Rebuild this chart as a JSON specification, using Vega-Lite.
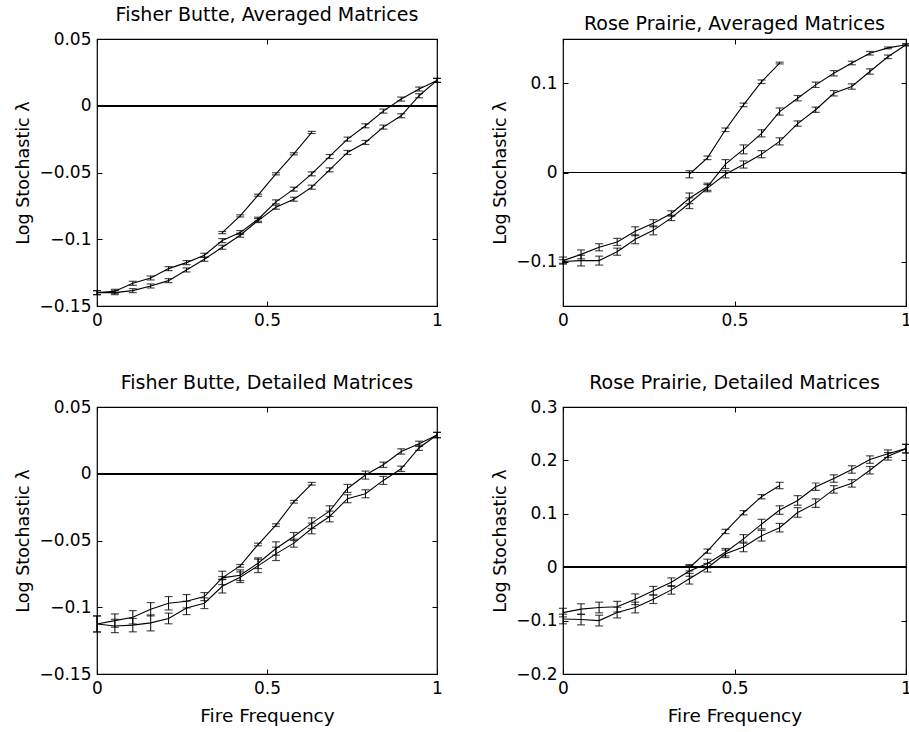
{
  "$schema": "https://vega.github.io/schema/vega-lite/v6.json",
  "padding": {"left": 14, "top": 5, "right": 0, "bottom": 0},
  "background": "white",
  "datasets": {
    "fbA": [
      {"s": "a", "x": 0, "y": -0.14, "e": 0.0015},
      {"s": "a", "x": 0.0526, "y": -0.139, "e": 0.0015},
      {"s": "a", "x": 0.1053, "y": -0.133, "e": 0.0015},
      {"s": "a", "x": 0.1579, "y": -0.129, "e": 0.0015},
      {"s": "a", "x": 0.2105, "y": -0.122, "e": 0.0015},
      {"s": "a", "x": 0.2632, "y": -0.1175, "e": 0.0015},
      {"s": "a", "x": 0.3158, "y": -0.112, "e": 0.0015},
      {"s": "a", "x": 0.3684, "y": -0.101, "e": 0.0015},
      {"s": "a", "x": 0.4211, "y": -0.095, "e": 0.0015},
      {"s": "a", "x": 0.4737, "y": -0.085, "e": 0.0015},
      {"s": "a", "x": 0.5263, "y": -0.072, "e": 0.0015},
      {"s": "a", "x": 0.5789, "y": -0.0625, "e": 0.0015},
      {"s": "a", "x": 0.6316, "y": -0.051, "e": 0.0015},
      {"s": "a", "x": 0.6842, "y": -0.038, "e": 0.0015},
      {"s": "a", "x": 0.7368, "y": -0.025, "e": 0.0015},
      {"s": "a", "x": 0.7895, "y": -0.015, "e": 0.0015},
      {"s": "a", "x": 0.8421, "y": -0.004, "e": 0.0015},
      {"s": "a", "x": 0.8947, "y": 0.005, "e": 0.0015},
      {"s": "a", "x": 0.9474, "y": 0.0125, "e": 0.0015},
      {"s": "a", "x": 1, "y": 0.019, "e": 0.0015},
      {"s": "b", "x": 0, "y": -0.14, "e": 0.0015},
      {"s": "b", "x": 0.0526, "y": -0.14, "e": 0.0015},
      {"s": "b", "x": 0.1053, "y": -0.1385, "e": 0.0015},
      {"s": "b", "x": 0.1579, "y": -0.135, "e": 0.0015},
      {"s": "b", "x": 0.2105, "y": -0.131, "e": 0.0015},
      {"s": "b", "x": 0.2632, "y": -0.123, "e": 0.0015},
      {"s": "b", "x": 0.3158, "y": -0.115, "e": 0.0015},
      {"s": "b", "x": 0.3684, "y": -0.106, "e": 0.0015},
      {"s": "b", "x": 0.4211, "y": -0.097, "e": 0.0015},
      {"s": "b", "x": 0.4737, "y": -0.086, "e": 0.0015},
      {"s": "b", "x": 0.5263, "y": -0.076, "e": 0.0015},
      {"s": "b", "x": 0.5789, "y": -0.07, "e": 0.0015},
      {"s": "b", "x": 0.6316, "y": -0.061, "e": 0.0015},
      {"s": "b", "x": 0.6842, "y": -0.048, "e": 0.0015},
      {"s": "b", "x": 0.7368, "y": -0.035, "e": 0.0015},
      {"s": "b", "x": 0.7895, "y": -0.0275, "e": 0.0015},
      {"s": "b", "x": 0.8421, "y": -0.016, "e": 0.0015},
      {"s": "b", "x": 0.8947, "y": -0.0075, "e": 0.0015},
      {"s": "b", "x": 0.9474, "y": 0.0075, "e": 0.0015},
      {"s": "b", "x": 1, "y": 0.019, "e": 0.0015},
      {"s": "c", "x": 0.3684, "y": -0.095, "e": 0.0008},
      {"s": "c", "x": 0.4211, "y": -0.0825, "e": 0.0008},
      {"s": "c", "x": 0.4737, "y": -0.067, "e": 0.0008},
      {"s": "c", "x": 0.5263, "y": -0.051, "e": 0.0008},
      {"s": "c", "x": 0.5789, "y": -0.036, "e": 0.0008},
      {"s": "c", "x": 0.6316, "y": -0.02, "e": 0.0008}
    ],
    "rpA": [
      {"s": "a", "x": 0, "y": -0.099, "e": 0.004},
      {"s": "a", "x": 0.0526, "y": -0.092, "e": 0.005},
      {"s": "a", "x": 0.1053, "y": -0.084, "e": 0.004},
      {"s": "a", "x": 0.1579, "y": -0.078, "e": 0.004},
      {"s": "a", "x": 0.2105, "y": -0.066, "e": 0.005},
      {"s": "a", "x": 0.2632, "y": -0.057, "e": 0.004},
      {"s": "a", "x": 0.3158, "y": -0.046, "e": 0.003},
      {"s": "a", "x": 0.3684, "y": -0.029, "e": 0.006},
      {"s": "a", "x": 0.4211, "y": -0.016, "e": 0.004},
      {"s": "a", "x": 0.4737, "y": 0.0095, "e": 0.005},
      {"s": "a", "x": 0.5263, "y": 0.026, "e": 0.005},
      {"s": "a", "x": 0.5789, "y": 0.044, "e": 0.004},
      {"s": "a", "x": 0.6316, "y": 0.0685, "e": 0.004},
      {"s": "a", "x": 0.6842, "y": 0.0835, "e": 0.003},
      {"s": "a", "x": 0.7368, "y": 0.0985, "e": 0.003},
      {"s": "a", "x": 0.7895, "y": 0.1115, "e": 0.003},
      {"s": "a", "x": 0.8421, "y": 0.123, "e": 0.002},
      {"s": "a", "x": 0.8947, "y": 0.134, "e": 0.002},
      {"s": "a", "x": 0.9474, "y": 0.14, "e": 0.001},
      {"s": "a", "x": 1, "y": 0.1435, "e": 0.001},
      {"s": "b", "x": 0, "y": -0.1, "e": 0.002},
      {"s": "b", "x": 0.0526, "y": -0.099, "e": 0.006},
      {"s": "b", "x": 0.1053, "y": -0.099, "e": 0.005},
      {"s": "b", "x": 0.1579, "y": -0.089, "e": 0.004},
      {"s": "b", "x": 0.2105, "y": -0.075, "e": 0.005},
      {"s": "b", "x": 0.2632, "y": -0.065, "e": 0.005},
      {"s": "b", "x": 0.3158, "y": -0.051, "e": 0.003},
      {"s": "b", "x": 0.3684, "y": -0.0345, "e": 0.006},
      {"s": "b", "x": 0.4211, "y": -0.0176, "e": 0.004},
      {"s": "b", "x": 0.4737, "y": -0.002, "e": 0.004},
      {"s": "b", "x": 0.5263, "y": 0.009, "e": 0.004},
      {"s": "b", "x": 0.5789, "y": 0.0206, "e": 0.004},
      {"s": "b", "x": 0.6316, "y": 0.035, "e": 0.004},
      {"s": "b", "x": 0.6842, "y": 0.055, "e": 0.003},
      {"s": "b", "x": 0.7368, "y": 0.0705, "e": 0.003},
      {"s": "b", "x": 0.7895, "y": 0.089, "e": 0.003},
      {"s": "b", "x": 0.8421, "y": 0.0966, "e": 0.003},
      {"s": "b", "x": 0.8947, "y": 0.1135, "e": 0.003},
      {"s": "b", "x": 0.9474, "y": 0.13, "e": 0.002},
      {"s": "b", "x": 1, "y": 0.1435, "e": 0.001},
      {"s": "c", "x": 0.3684, "y": -0.002, "e": 0.004},
      {"s": "c", "x": 0.4211, "y": 0.0165, "e": 0.002},
      {"s": "c", "x": 0.4737, "y": 0.048, "e": 0.002},
      {"s": "c", "x": 0.5263, "y": 0.076, "e": 0.002},
      {"s": "c", "x": 0.5789, "y": 0.102, "e": 0.002},
      {"s": "c", "x": 0.6316, "y": 0.123, "e": 0.001}
    ],
    "fbD": [
      {"s": "a", "x": 0, "y": -0.1125, "e": 0.006},
      {"s": "a", "x": 0.0526, "y": -0.11, "e": 0.005},
      {"s": "a", "x": 0.1053, "y": -0.1075, "e": 0.005},
      {"s": "a", "x": 0.1579, "y": -0.1015, "e": 0.005},
      {"s": "a", "x": 0.2105, "y": -0.097, "e": 0.005},
      {"s": "a", "x": 0.2632, "y": -0.0955, "e": 0.005},
      {"s": "a", "x": 0.3158, "y": -0.092, "e": 0.003},
      {"s": "a", "x": 0.3684, "y": -0.078, "e": 0.005},
      {"s": "a", "x": 0.4211, "y": -0.076, "e": 0.004},
      {"s": "a", "x": 0.4737, "y": -0.067, "e": 0.004},
      {"s": "a", "x": 0.5263, "y": -0.056, "e": 0.005},
      {"s": "a", "x": 0.5789, "y": -0.047, "e": 0.003},
      {"s": "a", "x": 0.6316, "y": -0.037, "e": 0.004},
      {"s": "a", "x": 0.6842, "y": -0.028, "e": 0.004},
      {"s": "a", "x": 0.7368, "y": -0.011, "e": 0.003},
      {"s": "a", "x": 0.7895, "y": -0.001, "e": 0.003},
      {"s": "a", "x": 0.8421, "y": 0.0067, "e": 0.002},
      {"s": "a", "x": 0.8947, "y": 0.0167, "e": 0.002},
      {"s": "a", "x": 0.9474, "y": 0.0224, "e": 0.002},
      {"s": "a", "x": 1, "y": 0.029, "e": 0.002},
      {"s": "b", "x": 0, "y": -0.1125, "e": 0.006},
      {"s": "b", "x": 0.0526, "y": -0.114, "e": 0.005},
      {"s": "b", "x": 0.1053, "y": -0.1134, "e": 0.005},
      {"s": "b", "x": 0.1579, "y": -0.1117, "e": 0.006},
      {"s": "b", "x": 0.2105, "y": -0.1084, "e": 0.004},
      {"s": "b", "x": 0.2632, "y": -0.1005, "e": 0.005},
      {"s": "b", "x": 0.3158, "y": -0.097, "e": 0.004},
      {"s": "b", "x": 0.3684, "y": -0.0843, "e": 0.005},
      {"s": "b", "x": 0.4211, "y": -0.0775, "e": 0.004},
      {"s": "b", "x": 0.4737, "y": -0.069, "e": 0.005},
      {"s": "b", "x": 0.5263, "y": -0.06, "e": 0.005},
      {"s": "b", "x": 0.5789, "y": -0.052, "e": 0.003},
      {"s": "b", "x": 0.6316, "y": -0.041, "e": 0.004},
      {"s": "b", "x": 0.6842, "y": -0.032, "e": 0.004},
      {"s": "b", "x": 0.7368, "y": -0.0187, "e": 0.003},
      {"s": "b", "x": 0.7895, "y": -0.015, "e": 0.003},
      {"s": "b", "x": 0.8421, "y": -0.005, "e": 0.003},
      {"s": "b", "x": 0.8947, "y": 0.0037, "e": 0.002},
      {"s": "b", "x": 0.9474, "y": 0.0195, "e": 0.002},
      {"s": "b", "x": 1, "y": 0.029, "e": 0.002},
      {"s": "c", "x": 0.3684, "y": -0.078, "e": 0.001},
      {"s": "c", "x": 0.4211, "y": -0.069, "e": 0.001},
      {"s": "c", "x": 0.4737, "y": -0.053, "e": 0.001},
      {"s": "c", "x": 0.5263, "y": -0.0385, "e": 0.001},
      {"s": "c", "x": 0.5789, "y": -0.021, "e": 0.001},
      {"s": "c", "x": 0.6316, "y": -0.0075, "e": 0.001}
    ],
    "rpD": [
      {"s": "a", "x": 0, "y": -0.085, "e": 0.008},
      {"s": "a", "x": 0.0526, "y": -0.0785, "e": 0.01},
      {"s": "a", "x": 0.1053, "y": -0.0755, "e": 0.01},
      {"s": "a", "x": 0.1579, "y": -0.074, "e": 0.01},
      {"s": "a", "x": 0.2105, "y": -0.06, "e": 0.01},
      {"s": "a", "x": 0.2632, "y": -0.044, "e": 0.008},
      {"s": "a", "x": 0.3158, "y": -0.028, "e": 0.008},
      {"s": "a", "x": 0.3684, "y": -0.007, "e": 0.01},
      {"s": "a", "x": 0.4211, "y": 0.007, "e": 0.008},
      {"s": "a", "x": 0.4737, "y": 0.028, "e": 0.007},
      {"s": "a", "x": 0.5263, "y": 0.053, "e": 0.008},
      {"s": "a", "x": 0.5789, "y": 0.0807, "e": 0.009},
      {"s": "a", "x": 0.6316, "y": 0.107, "e": 0.008},
      {"s": "a", "x": 0.6842, "y": 0.125, "e": 0.009},
      {"s": "a", "x": 0.7368, "y": 0.1507, "e": 0.007},
      {"s": "a", "x": 0.7895, "y": 0.166, "e": 0.007},
      {"s": "a", "x": 0.8421, "y": 0.183, "e": 0.007},
      {"s": "a", "x": 0.8947, "y": 0.2015, "e": 0.007},
      {"s": "a", "x": 0.9474, "y": 0.2126, "e": 0.007},
      {"s": "a", "x": 1, "y": 0.222, "e": 0.008},
      {"s": "b", "x": 0, "y": -0.097, "e": 0.009},
      {"s": "b", "x": 0.0526, "y": -0.098, "e": 0.01},
      {"s": "b", "x": 0.1053, "y": -0.1, "e": 0.01},
      {"s": "b", "x": 0.1579, "y": -0.085, "e": 0.01},
      {"s": "b", "x": 0.2105, "y": -0.0755, "e": 0.01},
      {"s": "b", "x": 0.2632, "y": -0.06, "e": 0.008},
      {"s": "b", "x": 0.3158, "y": -0.0425, "e": 0.008},
      {"s": "b", "x": 0.3684, "y": -0.0216, "e": 0.01},
      {"s": "b", "x": 0.4211, "y": -0.001, "e": 0.008},
      {"s": "b", "x": 0.4737, "y": 0.025, "e": 0.007},
      {"s": "b", "x": 0.5263, "y": 0.038, "e": 0.009},
      {"s": "b", "x": 0.5789, "y": 0.059, "e": 0.01},
      {"s": "b", "x": 0.6316, "y": 0.074, "e": 0.008},
      {"s": "b", "x": 0.6842, "y": 0.1025, "e": 0.009},
      {"s": "b", "x": 0.7368, "y": 0.12, "e": 0.008},
      {"s": "b", "x": 0.7895, "y": 0.1457, "e": 0.007},
      {"s": "b", "x": 0.8421, "y": 0.157, "e": 0.007},
      {"s": "b", "x": 0.8947, "y": 0.1816, "e": 0.007},
      {"s": "b", "x": 0.9474, "y": 0.2076, "e": 0.007},
      {"s": "b", "x": 1, "y": 0.222, "e": 0.008},
      {"s": "c", "x": 0.3684, "y": -0.001, "e": 0.006},
      {"s": "c", "x": 0.4211, "y": 0.03, "e": 0.004},
      {"s": "c", "x": 0.4737, "y": 0.067, "e": 0.004},
      {"s": "c", "x": 0.5263, "y": 0.102, "e": 0.004},
      {"s": "c", "x": 0.5789, "y": 0.132, "e": 0.004},
      {"s": "c", "x": 0.6316, "y": 0.153, "e": 0.006}
    ]
  },
  "columns": 2,
  "spacing": {"column": 47, "row": 44},
  "concat": [
    {
      "title": "Fisher Butte, Averaged Matrices",
      "width": 340,
      "height": 267,
      "data": {"name": "fbA"},
      "layer": [
        {
          "mark": {"type": "rule", "color": "black", "strokeWidth": 1.2},
          "encoding": {"y": {"datum": 0, "type": "quantitative", "scale": {"domain": [-0.15, 0.05], "nice": false}, "axis": null}}
        },
        {
          "mark": {"type": "line", "color": "black", "strokeWidth": 1.1},
          "encoding": {
            "x": {"field": "x", "type": "quantitative", "scale": {"domain": [0, 1], "nice": false}, "axis": {"orient": "bottom", "values": [0, 0.5, 1], "format": ".2~f", "title": null}},
            "y": {"field": "y", "type": "quantitative", "scale": {"domain": [-0.15, 0.05], "nice": false}, "axis": {"orient": "left", "values": [-0.15, -0.1, -0.05, 0, 0.05], "format": ".2~f", "title": "Log Stochastic λ"}},
            "detail": {"field": "s"}
          }
        },
        {
          "mark": {"type": "errorbar", "color": "black", "thickness": 1, "ticks": {"size": 8, "thickness": 1.2}},
          "encoding": {
            "x": {"field": "x", "type": "quantitative", "scale": {"domain": [0, 1], "nice": false}, "axis": {"orient": "top", "values": [0, 0.5, 1], "labels": false, "title": null}},
            "y": {"field": "y", "type": "quantitative", "scale": {"domain": [-0.15, 0.05], "nice": false}, "axis": {"orient": "right", "values": [-0.15, -0.1, -0.05, 0, 0.05], "labels": false, "title": null}},
            "yError": {"field": "e"}
          }
        }
      ],
      "resolve": {"axis": {"x": "independent", "y": "independent"}}
    },
    {
      "title": "Rose Prairie, Averaged Matrices",
      "width": 343,
      "height": 267,
      "data": {"name": "rpA"},
      "layer": [
        {
          "mark": {"type": "rule", "color": "black", "strokeWidth": 1.2},
          "encoding": {"y": {"datum": 0, "type": "quantitative", "scale": {"domain": [-0.15, 0.15], "nice": false}, "axis": null}}
        },
        {
          "mark": {"type": "line", "color": "black", "strokeWidth": 1.1},
          "encoding": {
            "x": {"field": "x", "type": "quantitative", "scale": {"domain": [0, 1], "nice": false}, "axis": {"orient": "bottom", "values": [0, 0.5, 1], "format": ".2~f", "title": null}},
            "y": {"field": "y", "type": "quantitative", "scale": {"domain": [-0.15, 0.15], "nice": false}, "axis": {"orient": "left", "values": [-0.1, 0, 0.1], "format": ".2~f", "title": "Log Stochastic λ"}},
            "detail": {"field": "s"}
          }
        },
        {
          "mark": {"type": "errorbar", "color": "black", "thickness": 1, "ticks": {"size": 8, "thickness": 1.2}},
          "encoding": {
            "x": {"field": "x", "type": "quantitative", "scale": {"domain": [0, 1], "nice": false}, "axis": {"orient": "top", "values": [0, 0.5, 1], "labels": false, "title": null}},
            "y": {"field": "y", "type": "quantitative", "scale": {"domain": [-0.15, 0.15], "nice": false}, "axis": {"orient": "right", "values": [-0.1, 0, 0.1], "labels": false, "title": null}},
            "yError": {"field": "e"}
          }
        }
      ],
      "resolve": {"axis": {"x": "independent", "y": "independent"}}
    },
    {
      "title": "Fisher Butte, Detailed Matrices",
      "width": 340,
      "height": 267,
      "data": {"name": "fbD"},
      "layer": [
        {
          "mark": {"type": "rule", "color": "black", "strokeWidth": 1.2},
          "encoding": {"y": {"datum": 0, "type": "quantitative", "scale": {"domain": [-0.15, 0.05], "nice": false}, "axis": null}}
        },
        {
          "mark": {"type": "line", "color": "black", "strokeWidth": 1.1},
          "encoding": {
            "x": {"field": "x", "type": "quantitative", "scale": {"domain": [0, 1], "nice": false}, "axis": {"orient": "bottom", "values": [0, 0.5, 1], "format": ".2~f", "title": "Fire Frequency"}},
            "y": {"field": "y", "type": "quantitative", "scale": {"domain": [-0.15, 0.05], "nice": false}, "axis": {"orient": "left", "values": [-0.15, -0.1, -0.05, 0, 0.05], "format": ".2~f", "title": "Log Stochastic λ"}},
            "detail": {"field": "s"}
          }
        },
        {
          "mark": {"type": "errorbar", "color": "black", "thickness": 1, "ticks": {"size": 8, "thickness": 1.2}},
          "encoding": {
            "x": {"field": "x", "type": "quantitative", "scale": {"domain": [0, 1], "nice": false}, "axis": {"orient": "top", "values": [0, 0.5, 1], "labels": false, "title": null}},
            "y": {"field": "y", "type": "quantitative", "scale": {"domain": [-0.15, 0.05], "nice": false}, "axis": {"orient": "right", "values": [-0.15, -0.1, -0.05, 0, 0.05], "labels": false, "title": null}},
            "yError": {"field": "e"}
          }
        }
      ],
      "resolve": {"axis": {"x": "independent", "y": "independent"}}
    },
    {
      "title": "Rose Prairie, Detailed Matrices",
      "width": 343,
      "height": 267,
      "data": {"name": "rpD"},
      "layer": [
        {
          "mark": {"type": "rule", "color": "black", "strokeWidth": 1.2},
          "encoding": {"y": {"datum": 0, "type": "quantitative", "scale": {"domain": [-0.2, 0.3], "nice": false}, "axis": null}}
        },
        {
          "mark": {"type": "line", "color": "black", "strokeWidth": 1.1},
          "encoding": {
            "x": {"field": "x", "type": "quantitative", "scale": {"domain": [0, 1], "nice": false}, "axis": {"orient": "bottom", "values": [0, 0.5, 1], "format": ".2~f", "title": "Fire Frequency"}},
            "y": {"field": "y", "type": "quantitative", "scale": {"domain": [-0.2, 0.3], "nice": false}, "axis": {"orient": "left", "values": [-0.2, -0.1, 0, 0.1, 0.2, 0.3], "format": ".2~f", "title": "Log Stochastic λ"}},
            "detail": {"field": "s"}
          }
        },
        {
          "mark": {"type": "errorbar", "color": "black", "thickness": 1, "ticks": {"size": 8, "thickness": 1.2}},
          "encoding": {
            "x": {"field": "x", "type": "quantitative", "scale": {"domain": [0, 1], "nice": false}, "axis": {"orient": "top", "values": [0, 0.5, 1], "labels": false, "title": null}},
            "y": {"field": "y", "type": "quantitative", "scale": {"domain": [-0.2, 0.3], "nice": false}, "axis": {"orient": "right", "values": [-0.2, -0.1, 0, 0.1, 0.2, 0.3], "labels": false, "title": null}},
            "yError": {"field": "e"}
          }
        }
      ],
      "resolve": {"axis": {"x": "independent", "y": "independent"}}
    }
  ],
  "config": {
    "font": "DejaVu Sans",
    "view": {"stroke": "black", "strokeWidth": 1.2},
    "axis": {
      "grid": false,
      "domain": false,
      "ticks": true,
      "tickColor": "black",
      "tickSize": -5,
      "labelColor": "black",
      "labelFont": "DejaVu Sans",
      "labelFontSize": 17,
      "labelPadding": 11,
      "labelFlush": false,
      "titleFont": "DejaVu Sans",
      "titleFontWeight": "normal",
      "titleColor": "black",
      "titlePadding": 6
    },
    "axisX": {"titleFontSize": 18.5, "titlePadding": 10},
    "axisY": {"titleFontSize": 17.5},
    "title": {
      "font": "DejaVu Sans",
      "fontSize": 19,
      "fontWeight": "normal",
      "color": "black",
      "frame": "group",
      "offset": 5
    }
  }
}
